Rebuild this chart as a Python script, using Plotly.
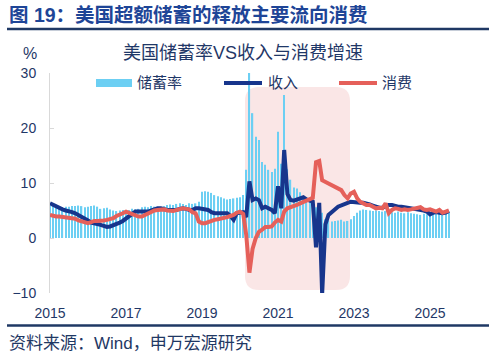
import pandas as pd
import plotly.graph_objects as go

# ---------------- data (monthly, 2015-01 .. 2025-07) ----------------
start_month = "2015-01-01"
saving_rate = [
    5.8, 5.9, 5.7, 5.8, 5.6, 5.7, 5.7, 5.8, 5.8, 5.9, 5.8, 5.6,   # 2015
    5.7, 5.8, 5.9, 5.7, 5.3, 5.4, 5.5, 5.2, 5.0, 4.9, 5.0, 5.1,   # 2016
    5.0, 5.1, 5.3, 5.2, 5.3, 5.6, 5.7, 5.6, 5.8, 5.7, 5.6, 5.4,   # 2017
    5.8, 6.0, 6.1, 6.0, 6.2, 6.3, 6.2, 6.0, 6.3, 6.2, 6.3, 6.6,   # 2018
    8.4, 8.5, 8.4, 8.2, 7.8, 7.6, 7.4, 7.2, 7.0, 7.1, 7.2, 7.3,   # 2019
    7.4, 7.8, 12.4, 30.5, 22.7, 18.4, 17.8, 13.8, 13.3, 12.4, 12.0, 12.6,  # 2020
    19.3, 13.5, 26.0, 12.5, 10.6, 9.2, 9.0, 8.3, 7.6, 7.2, 7.0, 7.4,      # 2021
    5.6, 5.2, 4.6, 3.4, 3.2, 3.0, 3.1, 3.2, 3.3, 3.0, 3.1, 3.4,   # 2022
    4.0, 4.6, 5.0, 5.2, 5.1, 5.0, 4.9, 5.0, 4.9, 4.8, 4.9, 4.8,   # 2023
    4.7, 4.6, 4.8, 4.6, 4.5, 4.7, 4.5, 4.4, 4.3, 4.2, 4.4, 4.3,   # 2024
    4.6, 4.8, 4.9, 4.7, 4.8, 4.7, 4.8,                            # 2025
]
income_growth = [
    6.3, 6.0, 5.6, 5.3, 5.2, 5.0, 4.9, 4.7, 4.5, 4.2, 4.0, 3.7,
    3.2, 2.8, 2.7, 2.6, 2.4, 2.2, 2.0, 2.1, 2.3, 2.6, 2.8, 3.1,
    3.6, 4.0, 4.4, 4.8, 4.8, 4.9, 4.9, 4.8, 5.0, 5.2, 5.4, 5.4,
    5.2, 5.1, 5.1, 5.1, 5.1, 5.3, 5.4, 5.3, 5.1, 5.1, 5.4, 5.4,
    5.3, 5.3, 5.1, 4.7, 4.5, 4.5, 4.5, 4.5, 4.5, 4.0, 3.3, 4.5,
    4.6, 4.7, 3.8, 10.3, 6.9, 7.2, 6.9, 5.4, 5.7, 5.4, 5.1, 4.5,
    9.4, 5.4, 16.0, 8.0, 6.9, 6.8, 7.0, 7.2, 7.4, 7.0, 6.8, 6.6,
    -1.7, 6.4, -10.2, 2.5, 4.2, 4.8, 5.2, 5.7, 6.0, 6.3, 6.4, 6.6,
    6.5, 6.5, 6.4, 6.4, 6.3, 6.1, 5.9, 5.7, 5.5, 5.5, 5.8, 6.0,
    6.0, 5.8, 5.7, 5.7, 5.6, 5.5, 5.4, 5.3, 5.2, 5.2, 5.0, 4.8,
    4.3, 4.6, 4.7, 4.6, 4.5, 4.6, 4.9,
]
consumption_growth = [
    4.2, 4.0, 3.9, 3.9, 3.8, 3.7, 3.7, 3.6, 3.5, 3.2, 3.0, 2.8,
    2.7, 2.9, 3.1, 3.1, 3.1, 3.2, 3.3, 3.4, 3.6, 4.0, 4.2, 4.5,
    4.8, 4.6, 4.3, 4.1, 3.9, 3.9, 4.2, 4.5, 4.8, 5.0, 5.1, 5.2,
    5.2, 5.0, 4.9, 4.9, 5.1, 5.3, 5.4, 5.3, 5.2, 4.7, 4.5, 3.0,
    2.7, 2.7, 2.9, 3.2, 3.3, 3.4, 3.5, 3.6, 3.8, 4.0, 4.2, 4.6,
    4.8, 4.4, 0.6, -6.3, -2.0, 0.0, 1.1, 1.5, 2.0, 2.0, 2.1, 2.8,
    3.3, 3.0, 4.8, 5.4, 5.6, 5.7, 6.0, 6.3, 6.6, 6.9, 7.1, 7.3,
    13.8, 14.0, 10.5, 10.2, 10.0, 9.6, 9.3, 9.2, 8.7, 7.8, 7.2, 8.1,
    8.4, 7.2, 6.6, 6.3, 6.0, 6.0, 5.7, 5.4, 5.5, 5.4, 6.3, 4.5,
    5.1, 5.4, 5.3, 5.1, 5.2, 5.1, 5.2, 5.3, 5.5, 5.6, 5.2, 5.1,
    5.2, 4.9, 4.8, 5.1, 4.6, 4.8, 5.0,
]
series_names = ["储蓄率", "收入", "消费"]
x_tick_years = ["2015-01-01", "2017-01-01", "2019-01-01", "2021-01-01", "2023-01-01", "2025-01-01"]
y_ticks = [-10, 0, 10, 20, 30]

dates = pd.date_range(start_month, periods=len(saving_rate), freq="MS")

# ---------------- styling ----------------
FONT = "Liberation Sans, Arial, Noto Sans CJK SC, sans-serif"
NAVY_TXT = "#1F3767"
BAR_C = "#6CCFF3"
INC_C = "#17358C"
CON_C = "#E5605A"

W, H = 489, 354
L, R, T, B = 50, 21, 73, 61
PW, PH = W - L - R, H - T - B

def px(xpix):
    return (xpix - L) / PW

def py(ypix):
    return (H - B - ypix) / PH

fig = go.Figure()
fig.add_trace(go.Bar(x=dates, y=saving_rate, name=series_names[0],
                     marker=dict(color=BAR_C, line=dict(width=0)), showlegend=False))
fig.add_trace(go.Scatter(x=dates, y=income_growth, name=series_names[1], mode="lines",
                         line=dict(color=INC_C, width=4), showlegend=False))
fig.add_trace(go.Scatter(x=dates, y=consumption_growth, name=series_names[2], mode="lines",
                         line=dict(color=CON_C, width=4), showlegend=False))

# rounded shaded region (paper coords)
x0, x1 = px(245), px(350)
y0, y1 = py(290), py(87)
rx, ry = 14 / PW, 14 / PH
path = (f"M {x0+rx},{y1} L {x1-rx},{y1} Q {x1},{y1} {x1},{y1-ry} "
        f"L {x1},{y0+ry} Q {x1},{y0} {x1-rx},{y0} L {x0+rx},{y0} "
        f"Q {x0},{y0} {x0},{y0+ry} L {x0},{y1-ry} Q {x0},{y1} {x0+rx},{y1} Z")
shapes = [dict(type="path", path=path, xref="paper", yref="paper",
               fillcolor="rgba(242,190,190,0.38)", line=dict(width=0), layer="below")]

# header / footer rules
shapes.append(dict(type="line", xref="paper", yref="paper", x0=px(7), x1=px(489),
                   y0=py(29), y1=py(29), line=dict(color="#1F3864", width=2.5)))
shapes.append(dict(type="line", xref="paper", yref="paper", x0=px(7), x1=px(489),
                   y0=py(325.5), y1=py(325.5), line=dict(color="#1F3864", width=2.5)))

# legend symbols
shapes.append(dict(type="rect", xref="paper", yref="paper", x0=px(96), x1=px(132),
                   y0=py(87), y1=py(79), fillcolor=BAR_C, line=dict(width=0)))
shapes.append(dict(type="line", xref="paper", yref="paper", x0=px(224), x1=px(262),
                   y0=py(83), y1=py(83), line=dict(color=INC_C, width=4)))
shapes.append(dict(type="line", xref="paper", yref="paper", x0=px(339), x1=px(377),
                   y0=py(83), y1=py(83), line=dict(color=CON_C, width=4)))

annotations = [
    dict(text="<b>图 19：美国超额储蓄的释放主要流向消费</b>", x=px(7), y=py(15), xref="paper", yref="paper",
         xanchor="left", yanchor="middle", showarrow=False, font=dict(size=19.5, color="#1E4597", family=FONT)),
    dict(text="美国储蓄率VS收入与消费增速", x=px(243), y=py(53), xref="paper", yref="paper",
         xanchor="center", yanchor="middle", showarrow=False, font=dict(size=18, color=NAVY_TXT, family=FONT)),
    dict(text="%", x=px(30), y=py(53), xref="paper", yref="paper",
         xanchor="center", yanchor="middle", showarrow=False, font=dict(size=16, color=NAVY_TXT, family=FONT)),
    dict(text=series_names[0], x=px(135), y=py(83), xref="paper", yref="paper",
         xanchor="left", yanchor="middle", showarrow=False, font=dict(size=15, color=NAVY_TXT, family=FONT)),
    dict(text=series_names[1], x=px(266), y=py(83), xref="paper", yref="paper",
         xanchor="left", yanchor="middle", showarrow=False, font=dict(size=15, color=NAVY_TXT, family=FONT)),
    dict(text=series_names[2], x=px(380), y=py(83), xref="paper", yref="paper",
         xanchor="left", yanchor="middle", showarrow=False, font=dict(size=15, color=NAVY_TXT, family=FONT)),
    dict(text="资料来源：Wind，申万宏源研究", x=px(7), y=py(343), xref="paper", yref="paper",
         xanchor="left", yanchor="middle", showarrow=False, font=dict(size=17, color="#1F3864", family=FONT)),
]

fig.update_layout(
    width=W, height=H,
    margin=dict(l=L, r=R, t=T, b=B, pad=0),
    paper_bgcolor="white", plot_bgcolor="white",
    bargap=0.55,
    font=dict(family=FONT, color=NAVY_TXT, size=14),
    shapes=shapes, annotations=annotations,
    xaxis=dict(type="date", range=["2015-01-01", "2026-01-01"],
               tickvals=x_tick_years, tickformat="%Y",
               showgrid=False, zeroline=False, showline=False, ticks="",
               ticklabelstandoff=10, tickfont=dict(size=14, color=NAVY_TXT)),
    yaxis=dict(range=[-10, 30], tickvals=y_ticks, showgrid=False, zeroline=False,
               showline=True, linecolor="#D9D9D9", linewidth=1,
               ticks="inside", ticklen=4, tickcolor="#D9D9D9",
               ticklabelstandoff=10, tickfont=dict(size=14, color=NAVY_TXT)),
)

fig.write_html("out.html")
